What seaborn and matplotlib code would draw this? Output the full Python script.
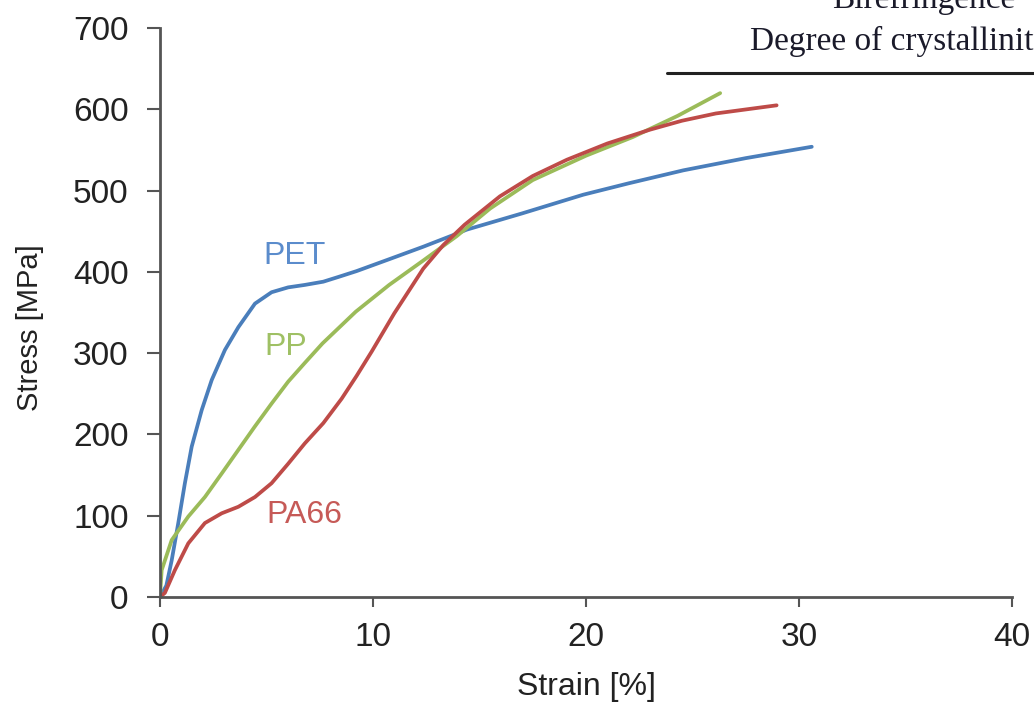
import matplotlib
matplotlib.use("Agg")
from matplotlib import pyplot as plt
import pandas as pd
import seaborn as sns

# values
pet_strain = [0, 0.3, 0.55, 0.86, 1.17, 1.49, 1.96, 2.43, 3.05, 3.68, 4.46, 5.24, 6.02, 6.8,
              7.67, 8.4, 9.23, 10.8, 12.36, 13.93, 14.4, 17.0, 19.87, 22.0, 24.57, 27.5, 30.6]
pet_stress = [0, 14, 45, 91, 140, 185, 230, 267, 304, 332, 361, 375, 381, 384,
              388, 394, 401, 416, 431, 447, 452, 472, 495, 509, 525, 540, 554]

pp_strain = [0, 0.08, 0.55, 1.33, 2.11, 2.9, 3.68, 4.46, 5.24, 6.02, 6.8, 7.63, 9.19,
             10.76, 12.36, 13.93, 14.3, 15.5, 17.5, 20.0, 22.2, 24.3, 26.3]
pp_stress = [0, 33, 70, 99, 123, 152, 181, 210, 238, 265, 288, 312, 351,
             384, 414, 444, 452, 478, 513, 543, 566, 592, 620]

pa66_strain = [0, 0.23, 0.7, 1.33, 2.11, 2.9, 3.68, 4.46, 5.24, 6.02, 6.8, 7.67, 8.53, 9.23,
               9.94, 11.0, 12.36, 13.3, 14.3, 15.96, 17.5, 19.1, 21.0, 23.0, 24.5, 26.1, 28.95]
pa66_stress = [0, 5, 33, 66, 91, 103, 111, 123, 140, 164, 189, 214, 244, 272,
               302, 349, 404, 433, 458, 493, 518, 538, 558, 575, 586, 595, 605]

materials = ["PET", "PP", "PA66"]
x_ticks = [0, 10, 20, 30, 40]
y_ticks = [0, 100, 200, 300, 400, 500, 600, 700]

df = pd.concat([
    pd.DataFrame({"Strain": pet_strain, "Stress": pet_stress, "Material": "PET"}),
    pd.DataFrame({"Strain": pp_strain, "Stress": pp_stress, "Material": "PP"}),
    pd.DataFrame({"Strain": pa66_strain, "Stress": pa66_stress, "Material": "PA66"}),
], ignore_index=True)

palette = {"PET": "#4a7ebb", "PP": "#9bbb59", "PA66": "#be4b48"}
label_colors = {"PET": "#5b8ccc", "PP": "#9fc064", "PA66": "#c65a57"}
label_pos = {"PET": (6.3, 420), "PP": (5.9, 307), "PA66": (6.8, 101)}

sns.set_style("white")
plt.rcParams['font.family'] = ['Liberation Sans', 'DejaVu Sans']

fig = plt.figure(figsize=(10.34, 7.03), dpi=100)
ax = fig.add_axes([0.1547, 0.1508, 0.824, 0.8092])

sns.lineplot(data=df, x="Strain", y="Stress", hue="Material", palette=palette,
             hue_order=materials, sort=False, estimator=None, linewidth=2.7,
             legend=False, ax=ax)
# smoother look at the joints
for line in ax.lines:
    line.set_solid_joinstyle("round")
    line.set_solid_capstyle("round")

for m in materials:
    ax.text(*label_pos[m], m, color=label_colors[m], fontsize=23,
            ha="center", va="center")

ax.set_xlim(0, 40)
ax.set_ylim(0, 700)
ax.set_xticks(x_ticks)
ax.set_yticks(y_ticks)
ax.set_xlabel("Strain [%]", fontsize=23, color="#222222")
ax.set_ylabel("Stress [MPa]", fontsize=21, color="#222222")
ax.xaxis.set_label_coords(0.5, -0.158)
ax.xaxis.label.set_va("center")
ax.yaxis.set_label_coords(-0.153, 0.474)
ax.yaxis.label.set_va("center")
ax.tick_params(axis="x", direction="out", length=7, width=1.5, labelsize=24,
               colors="#555555", labelcolor="#222222", pad=11)
ax.tick_params(axis="y", direction="out", length=9.5, width=1.5, labelsize=24,
               colors="#555555", labelcolor="#222222", pad=13)
ax.tick_params(left=True, bottom=True)
sns.despine(ax=ax)
for side in ["left", "bottom"]:
    ax.spines[side].set_color("#555555")
    ax.spines[side].set_linewidth(2)
ax.grid(False)

# annotation clipped at the figure edge, as in the original
serif = ["Liberation Serif", "DejaVu Serif"]
fig.text(0.893, 0.9886, "Birefringence", family=serif, fontsize=24,
         ha="center", va="baseline", color="#1a1a2a")
fig.text(0.7253, 0.9289, "Degree of crystallinity", family=serif, fontsize=24,
         ha="left", va="baseline", color="#1a1a2a")
fig.add_artist(plt.Line2D([0.645, 1.05], [0.896, 0.896], transform=fig.transFigure,
                          color="#222222", linewidth=2.2))

plt.savefig("out.png", dpi=100)
plt.close()
